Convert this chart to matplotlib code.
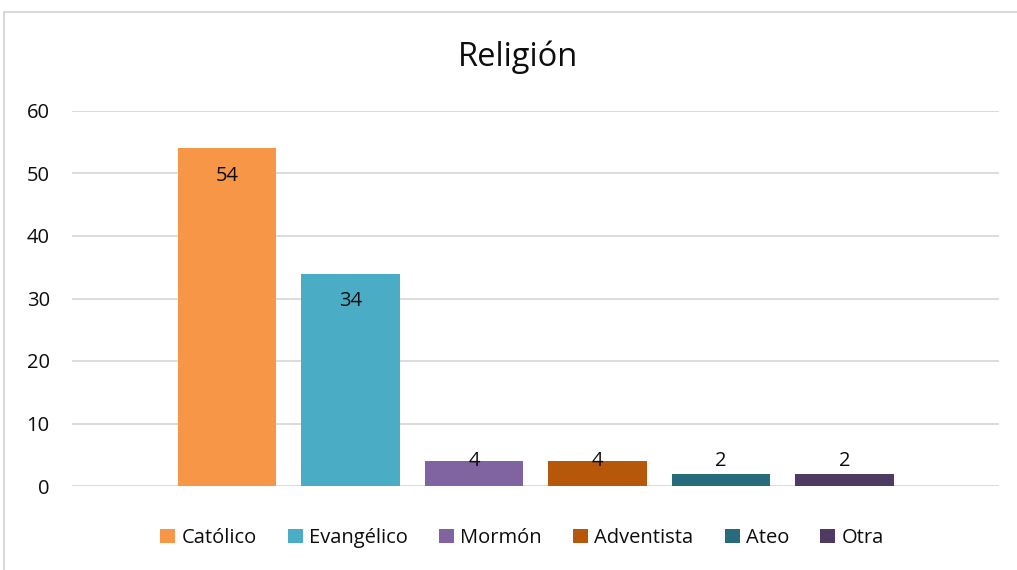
import matplotlib
matplotlib.use("Agg")
import matplotlib.pyplot as plt
from matplotlib.patches import Rectangle

categories = ["Católico", "Evangélico", "Mormón", "Adventista", "Ateo", "Otra"]
values = [54, 34, 4, 4, 2, 2]
colors = ["#F79646", "#4BACC6", "#8064A2", "#B7570A", "#276B7C", "#4E3B62"]
yticks = [0, 10, 20, 30, 40, 50, 60]

plt.rcParams["font.family"] = ["Open Sans", "DejaVu Sans"]
txt_col = "#0d0d0d"

fig = plt.figure(figsize = (10.17, 5.70), dpi = 100)
ax = fig.add_axes([72 / 1017, 1 - 486 / 570, 927 / 1017, 375 / 570])

# outer chart border (runs off the right and bottom edge)
fig.patches.append(Rectangle((4 / 1017, -0.1), 1.2, 1.1 - 12 / 570, transform = fig.transFigure,
                             fill = False, edgecolor = "#D9D9D9", linewidth = 1.5))

for i, (name, val, col) in enumerate(zip(categories, values, colors)):
    ax.bar(i, val, width = 0.794, color = col, label = name, zorder = 3)
    ax.text(i, max(val - 4.4, 4), str(val), ha = "center", va = "center", fontsize = 14.5, color = txt_col, zorder = 4)

ax.set_xlim(-1.255, 6.251)
ax.set_ylim(0, 60)
ax.set_yticks(yticks)
ax.set_xticks([])
ax.grid(axis = "y", color = "#D9D9D9", linewidth = 1.3, zorder = 0)
ax.tick_params(axis = "y", length = 0, pad = 16, labelsize = 14.5, labelcolor = txt_col)
for s in ax.spines.values():
    s.set_visible(False)

fig.text(518 / 1017, 1 - 57 / 570, "Religión", ha = "center", va = "center", fontsize = 23.5, color = txt_col)

fig.legend(loc = "center", bbox_to_anchor = (522 / 1017, 1 - 538 / 570), ncol = 6, frameon = False,
           fontsize = 14.5, handlelength = 0.75, handleheight = 0.75, handletextpad = 0.3, columnspacing = 1.55,
           labelcolor = txt_col)

fig.savefig("out.png", dpi = 100)
